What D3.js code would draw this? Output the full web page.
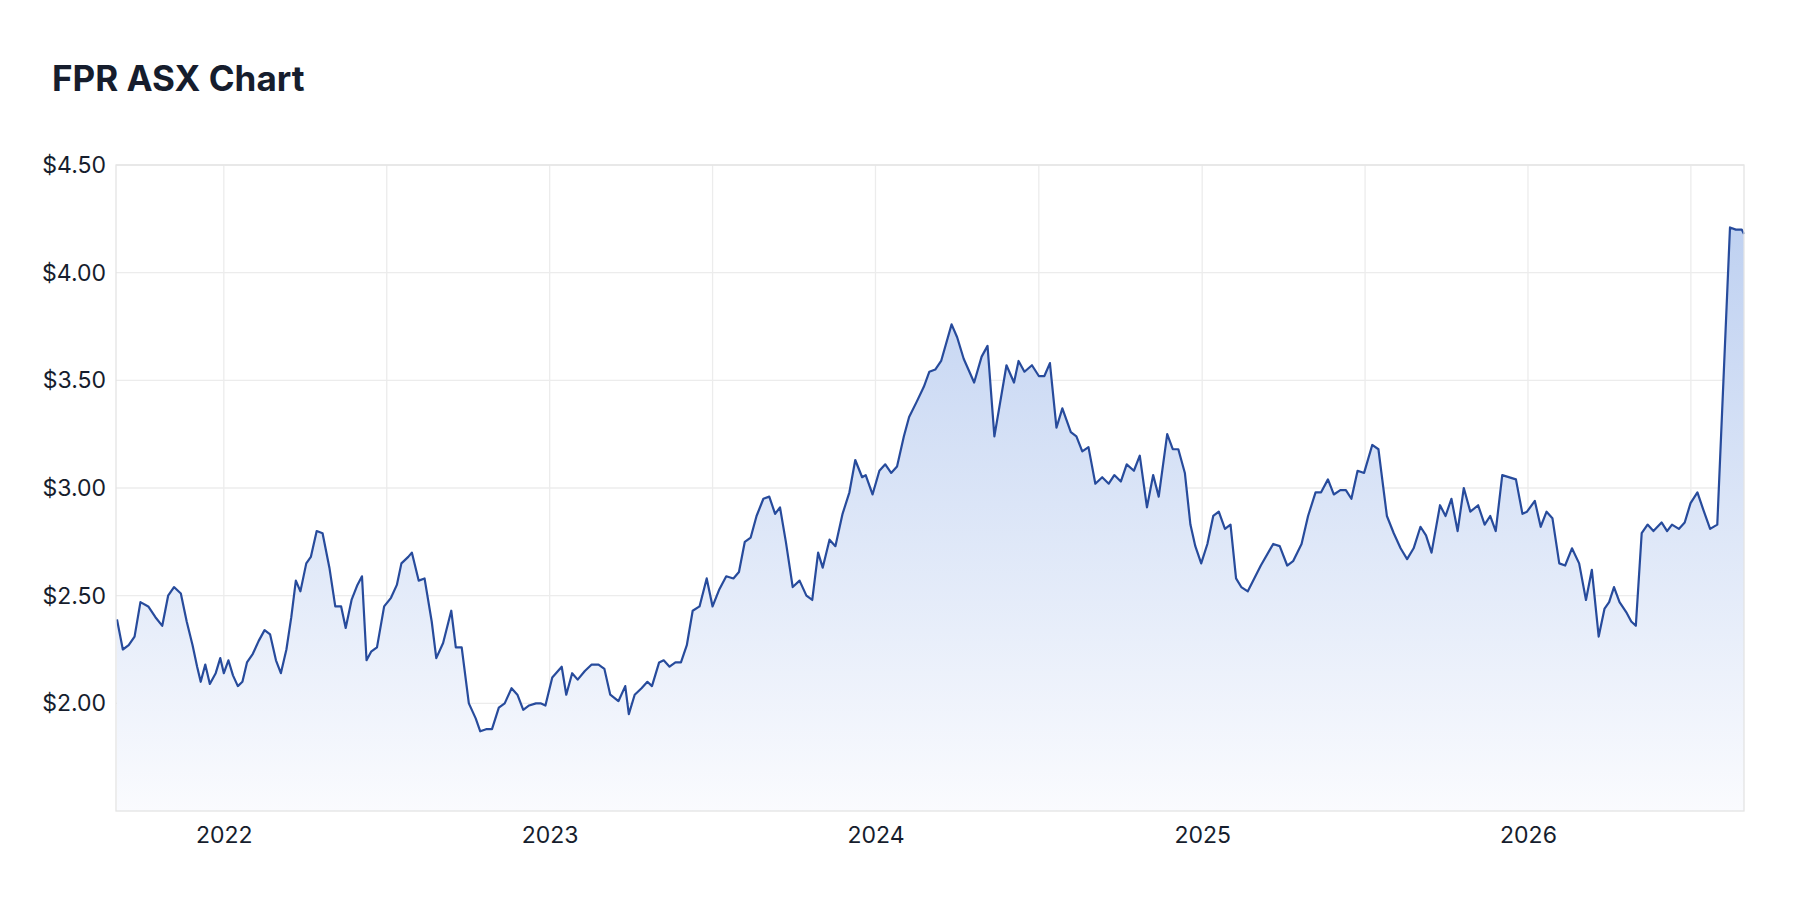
<!DOCTYPE html>
<html><head><meta charset="utf-8">
<script src="https://cdn.jsdelivr.net/npm/d3@7"></script>
<style>body{margin:0;background:#fff;font-family:Inter,"Noto Sans",sans-serif}</style>
</head><body><svg id="c" width="1800" height="898"></svg>
<script>
const title = "FPR ASX Chart";
// time in decimal years
const times = [2021.672,2021.690,2021.708,2021.726,2021.744,2021.768,2021.790,2021.811,2021.829,2021.847,2021.868,2021.886,2021.904,2021.918,2021.929,2021.943,2021.957,2021.975,2021.989,2022.000,2022.014,2022.028,2022.043,2022.057,2022.071,2022.089,2022.107,2022.125,2022.142,2022.160,2022.175,2022.192,2022.207,2022.221,2022.235,2022.253,2022.267,2022.285,2022.303,2022.324,2022.342,2022.360,2022.374,2022.392,2022.410,2022.424,2022.438,2022.452,2022.470,2022.492,2022.513,2022.531,2022.545,2022.566,2022.577,2022.598,2022.616,2022.638,2022.652,2022.673,2022.698,2022.712,2022.730,2022.752,2022.773,2022.787,2022.805,2022.823,2022.844,2022.862,2022.883,2022.901,2022.919,2022.937,2022.958,2022.972,2022.987,2023.008,2023.037,2023.051,2023.069,2023.086,2023.108,2023.129,2023.150,2023.168,2023.186,2023.211,2023.232,2023.243,2023.261,2023.282,2023.300,2023.314,2023.336,2023.350,2023.368,2023.386,2023.403,2023.421,
2023.439,2023.460,2023.482,2023.500,2023.521,2023.542,2023.564,2023.581,2023.599,2023.617,2023.635,2023.656,2023.674,2023.692,2023.707,2023.725,2023.746,2023.767,2023.788,2023.806,2023.824,2023.838,2023.859,2023.877,2023.899,2023.920,2023.938,2023.959,2023.970,2023.991,2024.012,2024.030,2024.048,2024.066,2024.087,2024.103,2024.126,2024.148,2024.165,2024.183,2024.201,
2024.233,2024.250,2024.270,2024.302,2024.325,2024.343,2024.364,2024.401,2024.424,2024.438,2024.456,2024.479,2024.500,2024.517,2024.534,2024.554,2024.572,2024.598,2024.615,2024.633,2024.652,2024.673,2024.694,2024.714,2024.731,2024.751,2024.769,2024.791,2024.809,2024.831,2024.850,2024.867,2024.893,2024.910,2024.927,2024.947,2024.964,2024.979,2024.997,2025.016,2025.034,2025.051,2025.070,2025.087,2025.104,2025.120,2025.140,
2025.180,2025.218,2025.238,2025.261,2025.279,2025.305,2025.325,2025.348,2025.365,2025.386,2025.404,2025.424,2025.441,2025.458,2025.477,2025.497,2025.522,2025.541,2025.567,2025.588,2025.609,2025.629,2025.649,2025.670,2025.687,2025.704,2025.730,2025.747,2025.765,2025.784,2025.803,2025.823,2025.847,2025.867,2025.884,2025.901,2025.921,2025.963,2025.983,2025.997,
2026.021,2026.039,2026.057,2026.075,2026.096,2026.114,2026.135,2026.157,2026.178,2026.196,2026.217,2026.235,2026.249,2026.264,2026.281,2026.303,2026.317,2026.331,2026.349,2026.367,2026.385,2026.410,2026.427,2026.442,2026.463,2026.481,2026.499,2026.520,2026.538,2026.559,2026.581,2026.620,2026.638,2026.656,2026.663];
const prices = [2.39,2.25,2.27,2.31,2.47,2.45,2.40,2.36,2.50,2.54,2.51,2.38,2.27,2.17,2.10,2.18,2.09,2.14,2.21,2.14,2.20,2.13,2.08,2.10,2.19,2.23,2.29,2.34,2.32,2.20,2.14,2.25,2.40,2.57,2.52,2.65,2.68,2.80,2.79,2.63,2.45,2.45,2.35,2.48,2.55,2.59,2.20,2.24,2.26,2.45,2.49,2.55,2.65,2.68,2.70,2.57,2.58,2.38,2.21,2.28,2.43,2.26,2.26,2.00,1.93,1.87,1.88,1.88,1.98,2.00,2.07,2.04,1.97,1.99,2.00,2.00,1.99,2.12,2.17,2.04,2.14,2.11,2.15,2.18,2.18,2.16,2.04,2.01,2.08,1.95,2.04,2.07,2.10,2.08,2.19,2.20,2.17,2.19,2.19,2.27,
2.43,2.45,2.58,2.45,2.53,2.59,2.58,2.61,2.75,2.77,2.87,2.95,2.96,2.88,2.91,2.75,2.54,2.57,2.50,2.48,2.70,2.63,2.76,2.73,2.88,2.98,3.13,3.05,3.06,2.97,3.08,3.11,3.07,3.10,3.24,3.33,3.40,3.47,3.54,3.55,3.59,
3.76,3.70,3.60,3.49,3.61,3.66,3.24,3.57,3.49,3.59,3.54,3.57,3.52,3.52,3.58,3.28,3.37,3.26,3.24,3.17,3.19,3.02,3.05,3.02,3.06,3.03,3.11,3.08,3.15,2.91,3.06,2.96,3.25,3.18,3.18,3.07,2.83,2.73,2.65,2.74,2.87,2.89,2.81,2.83,2.58,2.54,2.52,
2.64,2.74,2.73,2.64,2.66,2.74,2.87,2.98,2.98,3.04,2.97,2.99,2.99,2.95,3.08,3.07,3.20,3.18,2.87,2.79,2.72,2.67,2.72,2.82,2.78,2.70,2.92,2.87,2.95,2.80,3.00,2.89,2.92,2.83,2.87,2.80,3.06,3.04,2.88,2.89,
2.94,2.82,2.89,2.86,2.65,2.64,2.72,2.65,2.48,2.62,2.31,2.44,2.47,2.54,2.47,2.42,2.38,2.36,2.79,2.83,2.80,2.84,2.80,2.83,2.81,2.84,2.93,2.98,2.90,2.81,2.83,4.21,4.20,4.20,4.18];
const yTicks = [2.0,2.5,3.0,3.5,4.0,4.5];
const yearTicks = [2022,2023,2024,2025,2026];
const yDomain = [1.5,4.5];
const xDomain = [2021.669,2026.663];

function toDate(t){const y=Math.floor(t);const s=new Date(Date.UTC(y,0,1)),e=new Date(Date.UTC(y+1,0,1));return new Date(+s+(t-y)*(e-s));}
const data = times.map((t,i)=>({d:toDate(t),v:prices[i]}));

const svg=d3.select("#c");
const L=116,R=1744,T=165,B=811;
const x=d3.scaleUtc().domain(xDomain.map(toDate)).range([L,R]);
const y=d3.scaleLinear().domain(yDomain).range([B,T]);

svg.append("text").attr("x",52).attr("y",91).attr("font-size",35).attr("font-weight",700).attr("fill","#161d2d").text(title);

const defs=svg.append("defs");
const g=defs.append("linearGradient").attr("id","fg").attr("x1",0).attr("y1",0).attr("x2",0).attr("y2",1);
g.append("stop").attr("offset","0%").attr("stop-color","#bfd1f1");
g.append("stop").attr("offset","100%").attr("stop-color","#fafbfe");

// grid
const halfYears=[];yearTicks.forEach(yr=>{halfYears.push(yr-0.5,yr);});halfYears.push(2026.5);
svg.append("g").selectAll("line").data(yTicks).join("line")
  .attr("x1",L).attr("x2",R).attr("y1",d=>y(d)).attr("y2",d=>y(d)).attr("stroke","#ececec").attr("stroke-width",1.3);
svg.append("g").selectAll("line").data(halfYears.filter(h=>h>xDomain[0]&&h<xDomain[1])).join("line")
  .attr("x1",d=>x(toDate(d))).attr("x2",d=>x(toDate(d))).attr("y1",T).attr("y2",B).attr("stroke","#ececec").attr("stroke-width",1.3);

svg.append("path").datum(data).attr("fill","url(#fg)")
  .attr("d",d3.area().x(d=>x(d.d)).y0(B).y1(d=>y(d.v)));
svg.append("path").datum(data).attr("fill","none").attr("stroke","#274b9c").attr("stroke-width",2.2).attr("stroke-linejoin","round")
  .attr("d",d3.line().x(d=>x(d.d)).y(d=>y(d.v)));

svg.append("rect").attr("x",L).attr("y",T).attr("width",R-L).attr("height",B-T).attr("fill","none").attr("stroke","#e4e4e4").attr("stroke-width",1.3);

const ya=svg.append("g").attr("transform",`translate(${L},0)`).call(d3.axisLeft(y).tickValues(yTicks).tickSize(0).tickPadding(10).tickFormat(d=>"$"+d.toFixed(2)));
ya.select(".domain").remove();
ya.selectAll("text").attr("font-size",23).attr("fill","#161d2d").attr("font-family","Inter,sans-serif");

const xa=svg.append("g").attr("transform",`translate(0,${B})`).call(d3.axisBottom(x).tickValues(yearTicks.map(toDate)).tickSize(0).tickPadding(16).tickFormat(d3.utcFormat("%Y")));
xa.select(".domain").remove();
xa.selectAll("text").attr("font-size",23).attr("fill","#161d2d").attr("font-family","Inter,sans-serif");
</script></body></html>
